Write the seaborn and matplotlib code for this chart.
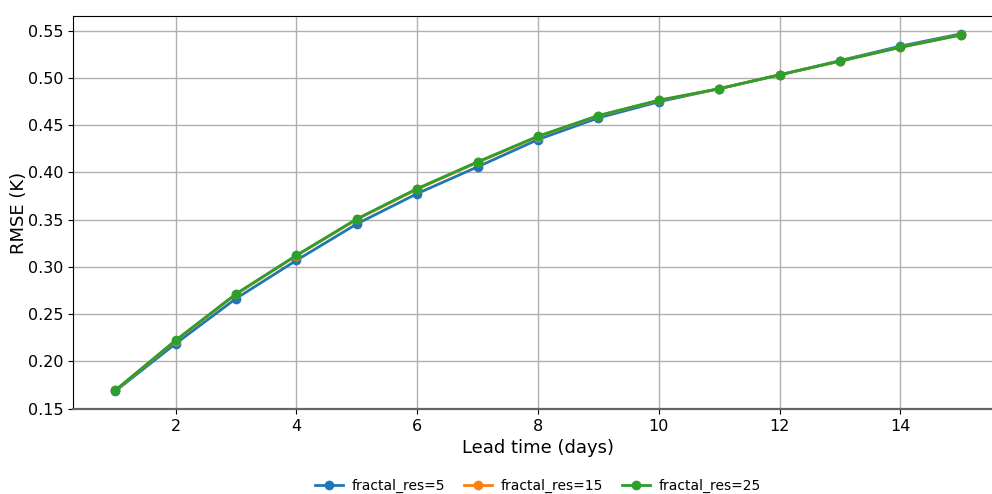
import matplotlib
matplotlib.use("Agg")
import matplotlib.pyplot as plt
import numpy as np
import pandas as pd
import seaborn as sns

lead_days = list(range(1, 16))
rmse_res5 = [0.1685, 0.2188, 0.2665, 0.3069, 0.3454, 0.3775, 0.4058, 0.4347,
             0.4576, 0.4746, 0.4886, 0.5030, 0.5182, 0.5335, 0.5465]
rmse_res15 = [0.1692, 0.2218, 0.2710, 0.3118, 0.3502, 0.3822, 0.4105, 0.4378,
              0.4598, 0.4760, 0.4884, 0.5032, 0.5176, 0.5324, 0.5455]
rmse_res25 = [0.1694, 0.2223, 0.2715, 0.3122, 0.3507, 0.3828, 0.4111, 0.4382,
              0.4601, 0.4763, 0.4884, 0.5032, 0.5176, 0.5322, 0.5452]
series_names = ["fractal_res=5", "fractal_res=15", "fractal_res=25"]

df = pd.DataFrame({
    "lead": lead_days * 3,
    "rmse": rmse_res5 + rmse_res15 + rmse_res25,
    "config": sum([[n] * len(lead_days) for n in series_names], []),
})

fig = plt.figure(figsize=(9.92, 4.94), dpi=100)
ax = fig.add_axes([73 / 992, 1 - 409 / 494, (1003 - 73) / 992, (409 - 16) / 494])

palette = ["#1f77b4", "#ff7f0e", "#2ca02c"]
sns.lineplot(data=df, x="lead", y="rmse", hue="config", hue_order=series_names,
             palette=palette, marker="o", markersize=7, markeredgewidth=0,
             linewidth=2, ax=ax)

ax.grid(True, color="#b0b0b0", linewidth=1)
ax.set_axisbelow(True)
ax.set_xticks([2, 4, 6, 8, 10, 12, 14])
ax.set_xlabel("Lead time (days)", fontsize=13)
ax.set_ylabel("RMSE (K)", fontsize=13, labelpad=0)
ax.tick_params(labelsize=11.5)
ax.spines["bottom"].set_color("#666666")
ax.spines["bottom"].set_linewidth(1.6)

handles, labels = ax.get_legend_handles_labels()
ax.legend_.remove()
fig.legend(handles, labels, loc="center", bbox_to_anchor=(538 / 992, 1 - 486 / 494),
           ncol=3, frameon=False, fontsize=10, columnspacing=1.4,
           handlelength=2.0, handletextpad=0.6)

fig.savefig("out.png", dpi=100)
